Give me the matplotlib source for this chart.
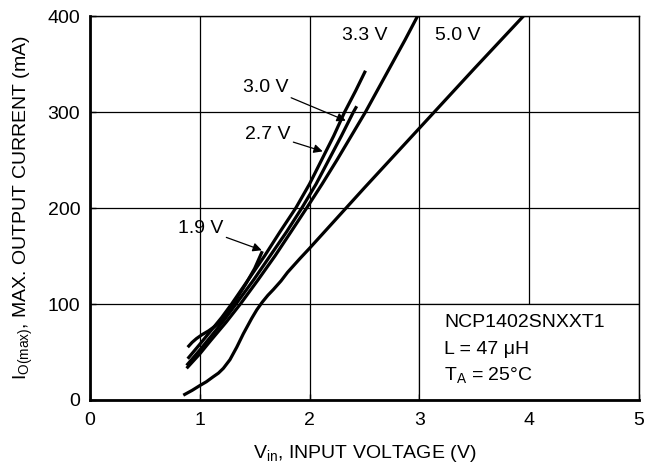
import matplotlib
matplotlib.use("Agg")
import matplotlib.pyplot as plt
from matplotlib.patches import Rectangle

plt.rcParams['font.family'] = ['Liberation Sans', 'DejaVu Sans']
plt.rcParams['mathtext.fontset'] = 'custom'
plt.rcParams['mathtext.rm'] = 'Liberation Sans'
plt.rcParams['mathtext.it'] = 'Liberation Sans'

# Data (Vin in V, Io(max) in mA)
vin_19 = [0.89, 0.93, 0.97, 1.02, 1.08, 1.14, 1.20, 1.25, 1.30, 1.36, 1.42, 1.50, 1.57]
io_19 = [55, 60, 64, 68, 72, 77, 83, 90, 99, 110, 121, 137, 155]

vin_27 = [0.89, 1.00, 1.10, 1.20, 1.29, 1.44, 1.59, 1.73, 1.875, 2.00, 2.11, 2.22, 2.32, 2.42, 2.51]
io_27 = [43, 58, 72, 86, 100, 125, 150, 175, 200, 225, 250, 275, 300, 322, 343]

vin_30 = [0.88, 1.00, 1.10, 1.22, 1.33, 1.49, 1.64, 1.79, 1.93, 2.06, 2.175, 2.29, 2.40, 2.43]
io_30 = [36, 52, 66, 83, 100, 125, 150, 175, 200, 225, 250, 275, 300, 306]

vin_33 = [0.88, 1.00, 1.10, 1.24, 1.37, 1.53, 1.685, 1.83, 1.974, 2.115, 2.25, 2.38, 2.51, 2.63, 2.75, 2.87, 2.985]
io_33 = [33, 48, 62, 81, 100, 125, 150, 175, 200, 225, 250, 275, 300, 325, 350, 375, 400]

vin_50 = [0.85, 0.93, 1.00, 1.06, 1.12, 1.17, 1.215, 1.275, 1.337, 1.397, 1.473,
          1.52, 1.57, 1.62, 1.67, 1.74, 1.80, 1.91, 2.00, 2.50, 3.00, 3.50, 3.95]
io_50 = [5, 10, 15, 19, 24, 28, 33, 42, 55, 69, 85,
         94, 102, 109, 115, 124, 133, 147, 158, 221, 283, 345, 400]

x_ticks = [0, 1, 2, 3, 4, 5]
y_ticks = [0, 100, 200, 300, 400]

fig = plt.figure(figsize=(6.5, 4.68), dpi=100)
ax = fig.add_axes([0.1385, 0.1453, 0.8442, 0.8205])
ax.set_xlim(0, 5)
ax.set_ylim(0, 400)
ax.set_xticks(x_ticks)
ax.set_yticks(y_ticks)
fs = 14
ax.tick_params(direction='in', length=4, width=1, labelsize=fs)
ax.tick_params(axis='x', pad=9)
ax.tick_params(axis='y', pad=7)
ax.grid(True, color='black', linewidth=0.9, zorder=1)
ax.set_axisbelow(True)
for s in ['top', 'right']:
    ax.spines[s].set_linewidth(1.0)
for s in ['left', 'bottom']:
    ax.spines[s].set_linewidth(2.0)

# Inset box covering grid area
ax.add_patch(Rectangle((3, 0), 2, 100, facecolor='white', edgecolor='black',
                       linewidth=0.9, zorder=1.5))

lw = 2.3
for xs, ys in [(vin_50, io_50), (vin_33, io_33), (vin_30, io_30),
               (vin_27, io_27), (vin_19, io_19)]:
    ax.plot(xs, ys, color='black', linewidth=lw, solid_capstyle='butt',
            solid_joinstyle='round', zorder=3)

ax.text(2.5, 380, '3.3 V', fontsize=fs, ha='center', va='center')
ax.text(3.35, 380, '5.0 V', fontsize=fs, ha='center', va='center')
arrowprops = dict(arrowstyle='-|>', color='black', linewidth=0.9,
                  mutation_scale=13, shrinkA=0, shrinkB=0)
ax.annotate('3.0 V', xy=(2.33, 291), xytext=(1.60, 326), fontsize=fs,
            ha='center', va='center', arrowprops=arrowprops, zorder=4)
ax.annotate('2.7 V', xy=(2.12, 259), xytext=(1.62, 277), fontsize=fs,
            ha='center', va='center', arrowprops=arrowprops, zorder=4)
ax.annotate('1.9 V', xy=(1.565, 156), xytext=(1.01, 179), fontsize=fs,
            ha='center', va='center', arrowprops=arrowprops, zorder=4)

ax.text(3.225, 81, 'NCP1402SNXXT1', fontsize=fs, ha='left', va='center', zorder=4)
ax.text(3.225, 53, 'L = 47 \u03bcH', fontsize=fs, ha='left', va='center', zorder=4)
ax.text(3.225, 26, 'T$_\\mathregular{A}$ = 25\u00b0C', fontsize=fs, ha='left',
        va='center', zorder=4)

ax.set_xlabel('V$_\\mathregular{in}$, INPUT VOLTAGE (V)', fontsize=fs, labelpad=10)
ax.set_ylabel('I$_\\mathregular{O(max)}$, MAX. OUTPUT CURRENT (mA)', fontsize=fs,
              labelpad=9)

fig.savefig('out.png', dpi=100)
